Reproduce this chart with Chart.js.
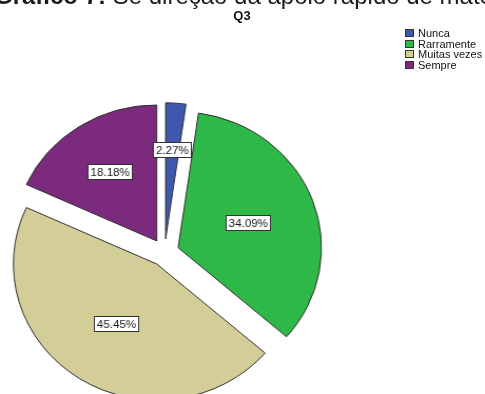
<!DOCTYPE html>
<html><head><meta charset="utf-8">
<script src="https://cdn.jsdelivr.net/npm/chart.js@4.4.1/dist/chart.umd.min.js"></script>
<style>
html,body{margin:0;padding:0;background:#fff;overflow:hidden;width:485px;height:394px;}
#wrap{position:relative;width:485px;height:394px;overflow:hidden;}
#stretch{position:absolute;left:0;top:0;width:460px;height:394px;transform:scaleX(1.0543);transform-origin:0 0;}
canvas{position:absolute;left:0;top:0;}
#head{position:absolute;left:-6px;top:-16px;white-space:nowrap;font-family:"Liberation Sans",Arial,sans-serif;font-size:24px;line-height:24px;color:#1a1a1a;}
#q3{position:absolute;left:0;width:484px;text-align:center;top:8px;font:bold 13px "Liberation Sans",Arial,sans-serif;color:#111;}
#legend{position:absolute;left:405px;top:28px;font:11px "Liberation Sans",Arial,sans-serif;color:#111;}
.row{height:10.6px;line-height:10.6px;display:flex;align-items:center;white-space:nowrap;}
.sw{width:9px;height:8px;border:1px solid #333;box-sizing:border-box;margin-right:4px;flex:none;}
</style></head>
<body><div id="wrap">
<div id="stretch"><canvas id="c" width="460" height="394"></canvas></div>
<div id="head"><b>Gráfico 7:</b> Se direção dá apoio rápido de materiais</div>
<div id="q3">Q3</div>
<div id="legend"></div>
</div>
<script>
// ---- data ----
const categories = ['Nunca', 'Rarramente', 'Muitas vezes', 'Sempre'];
const percentages = [2.27, 34.09, 45.45, 18.18];
const valueLabels = ['2.27%', '34.09%', '45.45%', '18.18%'];

// ---- style ----
const colors = ['#3e58ac', '#2eb848', '#d3ce97', '#7c2a7d'];
const labelRadiusFrac = [0.655, 0.52, 0.52, 0.605];
const EXPLODE = 13.7;

// legend (HTML)
const lg = document.getElementById('legend');
categories.forEach((c, i) => {
  const r = document.createElement('div'); r.className = 'row';
  const s = document.createElement('span'); s.className = 'sw'; s.style.background = colors[i];
  const t = document.createElement('span'); t.textContent = c;
  r.appendChild(s); r.appendChild(t); lg.appendChild(r);
});

const explodePlugin = {
  id: 'explode',
  beforeDatasetsDraw(chart) {
    const meta = chart.getDatasetMeta(0);
    meta.data.forEach(el => {
      if (el.__ex) return;
      const proto = Object.getPrototypeOf(el);
      el.draw = function (ctx) {
        const h = (this.startAngle + this.endAngle) / 2;
        ctx.save();
        ctx.translate(Math.cos(h) * EXPLODE, Math.sin(h) * EXPLODE);
        proto.draw.call(this, ctx);
        ctx.restore();
      };
      el.__ex = true;
    });
  },
  afterDatasetsDraw(chart) {
    const ctx = chart.ctx;
    const meta = chart.getDatasetMeta(0);
    ctx.save();
    ctx.font = '11px "Liberation Sans", Arial, sans-serif';
    ctx.textAlign = 'center';
    ctx.textBaseline = 'middle';
    meta.data.forEach((el, i) => {
      const h = (el.startAngle + el.endAngle) / 2;
      const d = EXPLODE + labelRadiusFrac[i] * el.outerRadius;
      const x = el.x + Math.cos(h) * d;
      const y = el.y + Math.sin(h) * d;
      const txt = valueLabels[i];
      const w = Math.round(ctx.measureText(txt).width + 5);
      const bh = 15;
      const bx = Math.round(x - w / 2) + 0.5, by = Math.round(y - bh / 2) + 0.5;
      ctx.fillStyle = '#ffffff';
      ctx.fillRect(bx, by, w, bh);
      ctx.strokeStyle = '#333333';
      ctx.lineWidth = 1;
      ctx.strokeRect(bx, by, w, bh);
      ctx.fillStyle = '#1a1a1a';
      ctx.fillText(txt, bx + w / 2, by + bh / 2 + 0.5);
    });
    ctx.restore();
  }
};

new Chart(document.getElementById('c'), {
  type: 'pie',
  data: {
    labels: categories,
    datasets: [{
      data: percentages,
      backgroundColor: colors,
      borderColor: '#303030',
      borderWidth: 1,
      borderJoinStyle: 'miter',
      offset: 0,
      hoverOffset: 0,
      clip: false
    }]
  },
  options: {
    responsive: false,
    animation: false,
    radius: 136,
    layout: { padding: { left: 0, right: 147.8, top: 111, bottom: 0 } },
    plugins: { legend: { display: false }, tooltip: { enabled: false }, title: { display: false } },
    events: []
  },
  plugins: [explodePlugin]
});
</script>
</body></html>
